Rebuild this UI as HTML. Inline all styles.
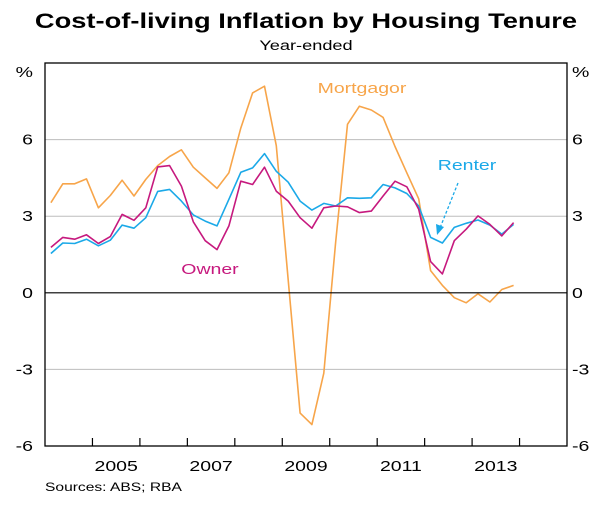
<!DOCTYPE html>
<html><head><meta charset="utf-8"><style>
body{margin:0;background:#fff;}
svg text{font-family:"Liberation Sans",Arial,sans-serif;}
</style></head><body>
<svg id="chart" width="600" height="504" viewBox="0 0 600 504">
<text x="306" y="28" text-anchor="middle" font-size="21" font-weight="bold" fill="#000">Cost-of-living Inflation by Housing Tenure</text>
<text x="306" y="50" text-anchor="middle" font-size="14" fill="#000">Year-ended</text>
<text x="33" y="77" text-anchor="end" font-size="15">%</text>
<text x="572" y="77" text-anchor="start" font-size="15">%</text>
<g id="grid"></g><g id="series"></g><g id="axes"></g>
<text x="362" y="93" text-anchor="middle" font-size="15" fill="#f7a54a">Mortgagor</text>
<text x="467" y="170" text-anchor="middle" font-size="15" fill="#1ba9e8">Renter</text>
<text x="210" y="274" text-anchor="middle" font-size="15" fill="#c6197e">Owner</text>
<g>
<line x1="458" y1="183" x2="440" y2="228" stroke="#1ba9e8" stroke-width="1.3" stroke-dasharray="3,2"/>
<polygon points="437,235 436,224 444,227" fill="#1ba9e8"/>
</g>
<text x="45" y="491" font-size="12" fill="#000">Sources: ABS; RBA</text>
</svg>
<script>
const yTicks=[-6,-3,0,3,6];
const xLabels=[2005,2007,2009,2011,2013];
const startYear=2004;
const mortgagor=[3.53,4.27,4.27,4.46,3.33,3.81,4.41,3.79,4.44,4.98,5.34,5.6,4.92,4.5,4.09,4.7,6.45,7.83,8.09,5.76,0.5,-4.71,-5.16,-3.15,2.0,6.6,7.31,7.16,6.87,5.73,4.7,3.68,0.87,0.29,-0.19,-0.39,-0.04,-0.36,0.13,0.29];
const renter=[1.54,1.95,1.93,2.1,1.84,2.06,2.65,2.53,2.94,3.97,4.05,3.59,3.05,2.81,2.62,3.66,4.72,4.89,5.45,4.76,4.33,3.59,3.24,3.5,3.4,3.72,3.7,3.72,4.24,4.11,3.89,3.4,2.17,1.95,2.56,2.72,2.85,2.65,2.3,2.68];
const owner=[1.78,2.17,2.1,2.27,1.93,2.2,3.07,2.84,3.33,4.93,4.98,4.18,2.78,2.04,1.69,2.62,4.37,4.24,4.92,3.98,3.59,2.94,2.53,3.33,3.4,3.37,3.14,3.2,3.79,4.37,4.15,3.27,1.22,0.74,2.04,2.49,3.01,2.68,2.23,2.75];
const L=45,R=567,T=63,B=446,yMin=-6,yMax=9,xMin=2004,xMax=2015;
const NS="http://www.w3.org/2000/svg";
const xs=t=>L+(t-xMin)/(xMax-xMin)*(R-L);
const ys=v=>B-(v-yMin)/(yMax-yMin)*(B-T);
function mk(tag,attrs,parent){const e=document.createElementNS(NS,tag);for(const k in attrs)e.setAttribute(k,attrs[k]);parent.appendChild(e);return e;}
const grid=document.getElementById('grid'),axes=document.getElementById('axes'),ser=document.getElementById('series');
yTicks.forEach(v=>{
  if(v!==0&&v!==yMin){const g=mk('line',{x1:L,x2:R,y1:ys(v),y2:ys(v),stroke:'#bdbdbd','stroke-width':1},grid);
  
  }
  const a=mk('text',{x:33,y:ys(v)+5,'text-anchor':'end','font-size':15},axes);a.textContent=v;
  
  
  const b=mk('text',{x:572,y:ys(v)+5,'text-anchor':'start','font-size':15},axes);b.textContent=v;
  
  
});
const z=mk('line',{x1:L,x2:R,y1:ys(0),y2:ys(0),stroke:'#000','stroke-width':1.2},axes);


const box=mk('rect',{x:L,y:T,width:R-L,height:B-T,fill:'none',stroke:'#000','stroke-width':1.3},axes);


for(let yr=xMin+1;yr<xMax;yr++){const t=mk('line',{x1:xs(yr),x2:xs(yr),y1:B,y2:B-8,stroke:'#000','stroke-width':1.2},axes);
  
  }
xLabels.forEach(yr=>{const t=mk('text',{x:xs(yr+0.5),y:B+25,'text-anchor':'middle','font-size':15},axes);t.textContent=yr;
  
  });
function line(arr,color,name){
  const pts=arr.map((v,i)=>xs(startYear+0.125+i*0.25).toFixed(1)+','+ys(v).toFixed(1)).join(' ');
  const p=mk('polyline',{points:pts,fill:'none',stroke:color,'stroke-width':1.6,'stroke-linejoin':'round'},ser);
  
  
}
line(mortgagor,'#f7a54a','mortgagor-line');
line(renter,'#1ba9e8','renter-line');
line(owner,'#c6197e','owner-line');
// horizontal stretch of text to match reference aspect
document.querySelectorAll('svg text').forEach(t=>{
  const x=parseFloat(t.getAttribute('x'));
  t.setAttribute('transform','translate('+x+',0) scale(1.3,1) translate('+(-x)+',0)');
});
</script>
</body></html>
